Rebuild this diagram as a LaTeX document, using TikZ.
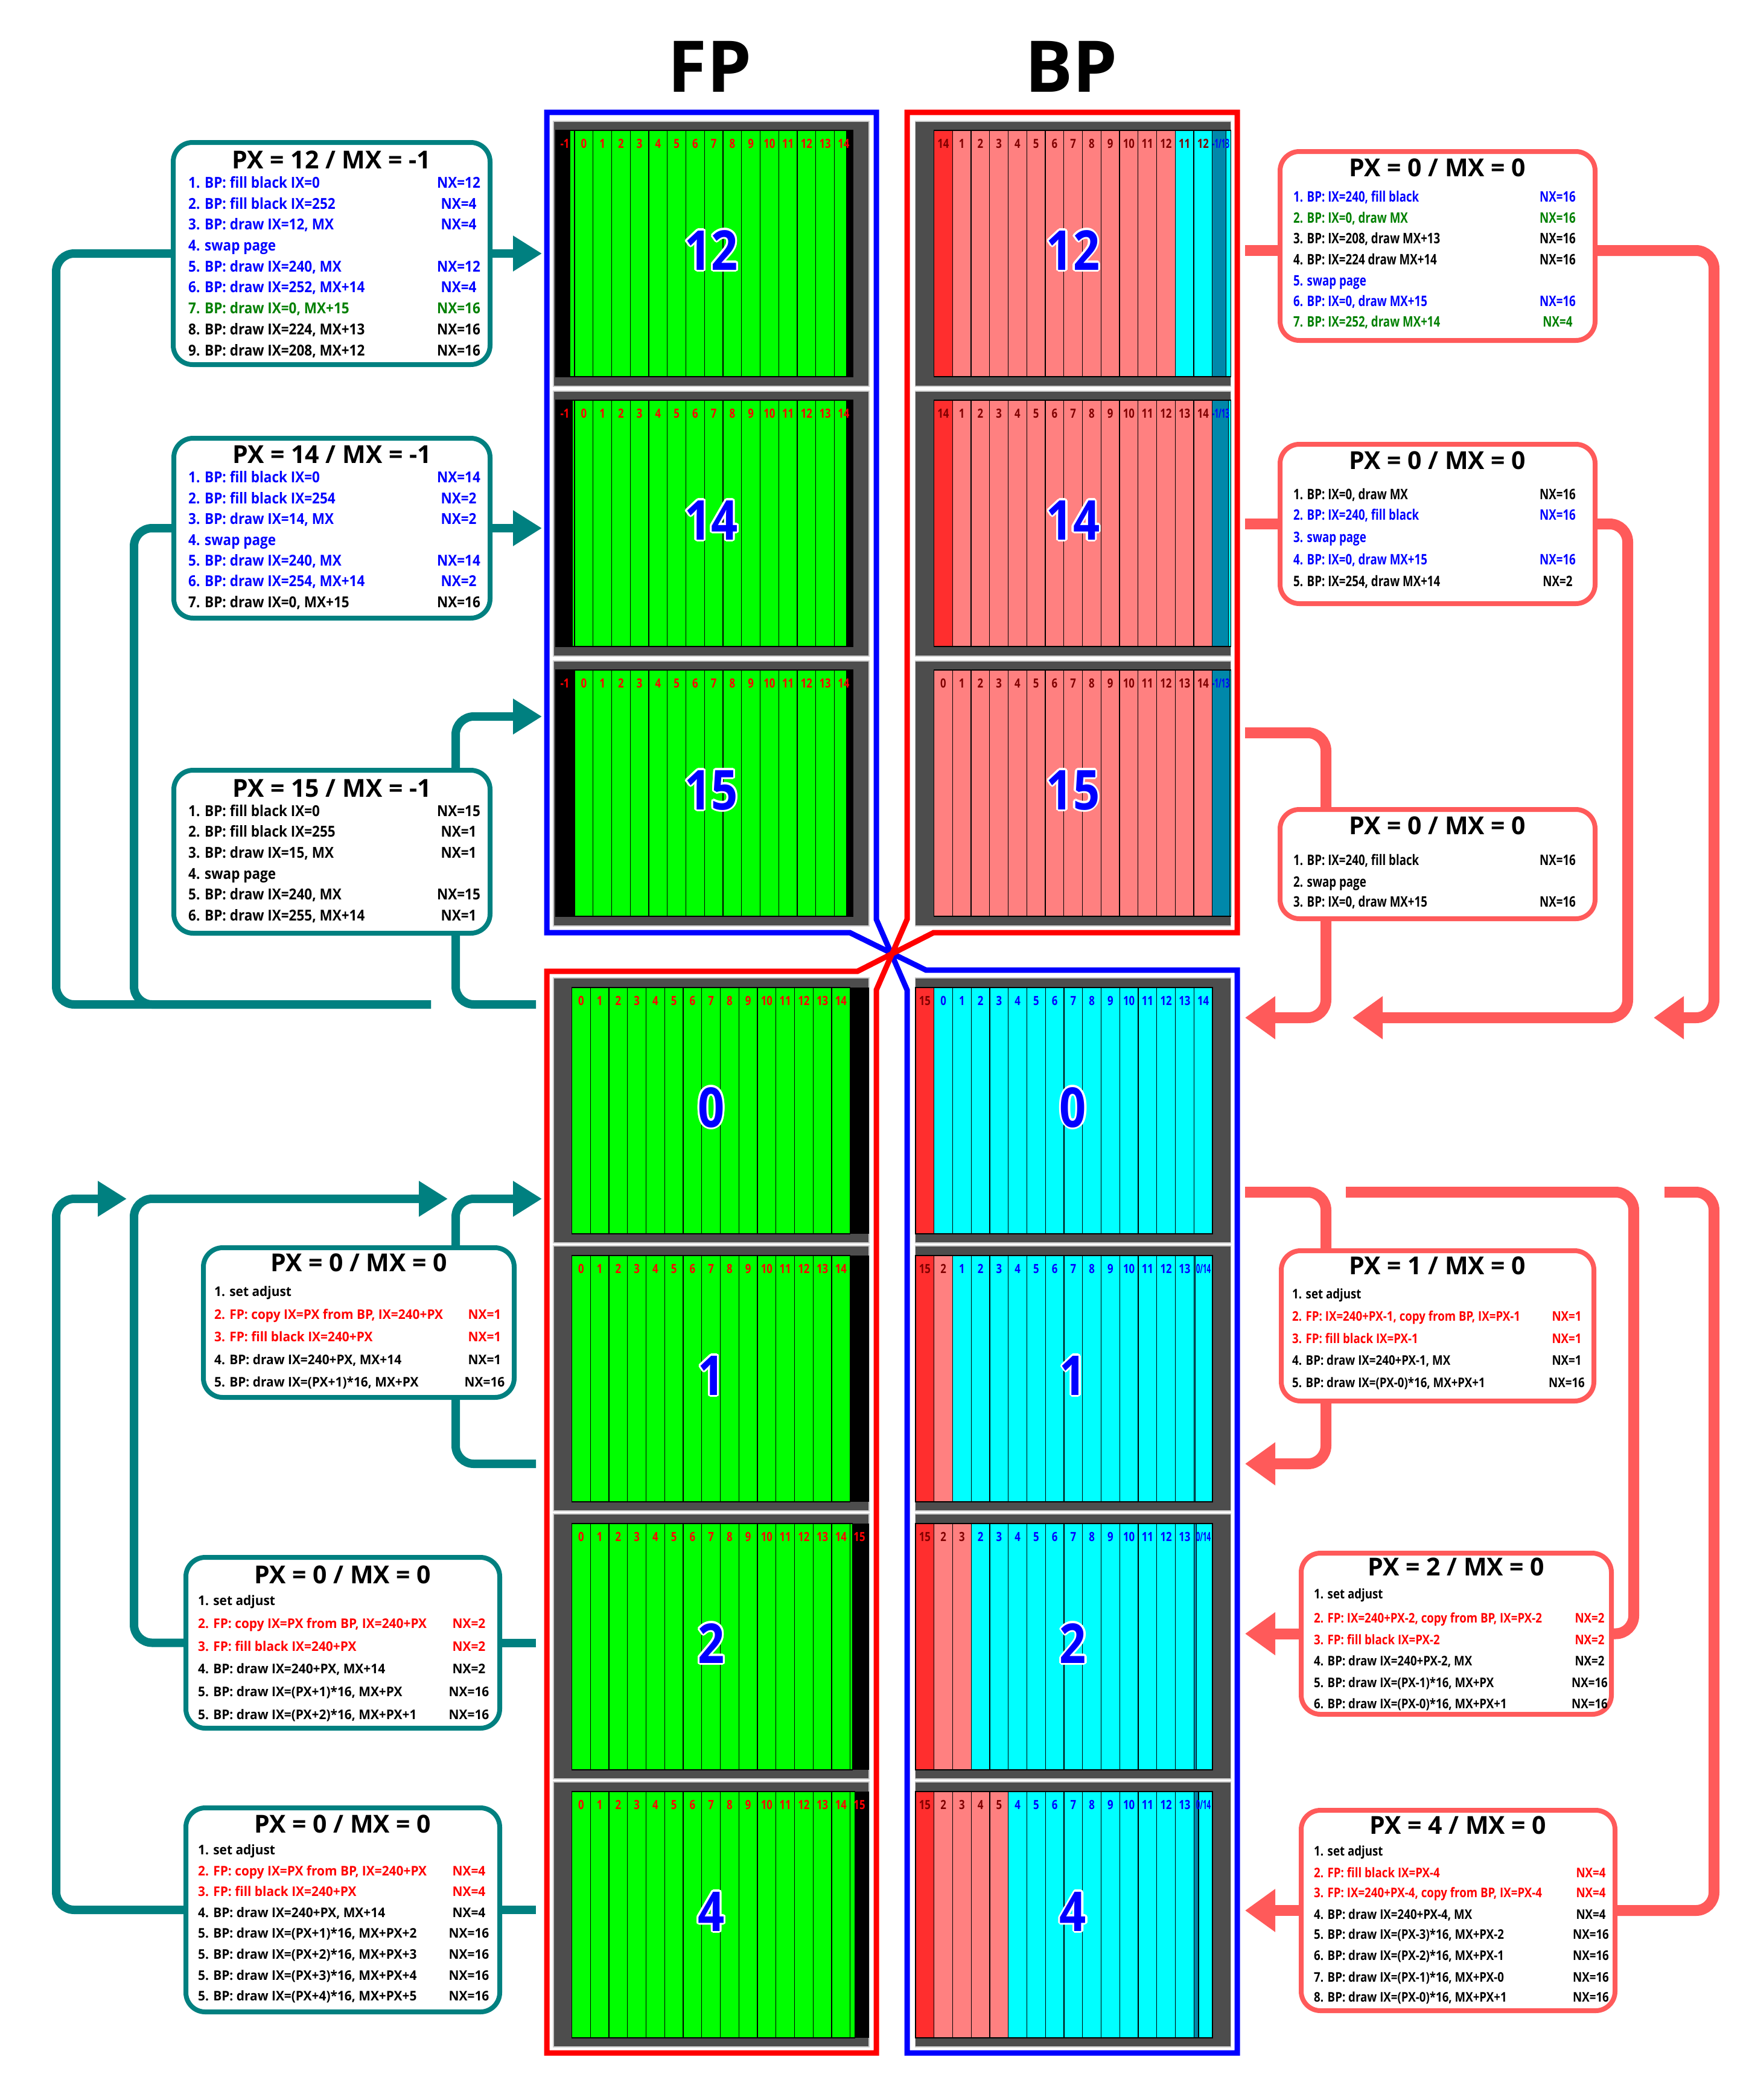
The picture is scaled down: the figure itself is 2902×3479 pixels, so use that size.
\documentclass[tikz,border=0pt]{standalone}
\usepackage{fontspec}
\setmainfont{Open Sans}
\newfontfamily\fA[FakeStretch=0.9]{Open Sans}
\newfontfamily\fB[FakeStretch=0.78]{Open Sans}
\newfontfamily\fC[FakeStretch=0.8]{Open Sans}
\newfontfamily\fD[FakeStretch=0.55]{Open Sans}
\newfontfamily\fE[FakeStretch=0.85]{Open Sans}
\newfontfamily\fF[FakeStretch=0.95]{Open Sans}
\usetikzlibrary{arrows.meta}
\definecolor{tealc}{HTML}{008080}
\definecolor{salm}{HTML}{FF5A5A}
\definecolor{gpanel}{HTML}{4D4D4D}
\definecolor{cgreen}{HTML}{00FF00}
\definecolor{csalmon}{HTML}{FF8080}
\definecolor{cred}{HTML}{FF2E2E}
\definecolor{ccyan}{HTML}{00FFFF}
\definecolor{cteal}{HTML}{0088AA}
\definecolor{dred}{HTML}{800000}
\definecolor{tgreen}{HTML}{008000}
\tikzset{
 panel/.style={draw=black!20, line width=1.5pt, fill=gpanel, minimum width=523pt, minimum height=439pt, inner sep=0pt, outer sep=0pt},
 cell/.style={draw=black, line width=1.2pt},
 lab/.style={font=\fC\bfseries\fontsize{21}{21}\selectfont, inner sep=0pt, anchor=base},
 slab/.style={font=\fD\bfseries\fontsize{21}{21}\selectfont, inner sep=0pt, anchor=base},
 big/.style={font=\fE\bfseries\fontsize{91}{91}\selectfont, inner sep=0pt, anchor=base},
 head/.style={font=\bfseries\fontsize{118}{118}\selectfont, inner sep=0pt, anchor=base},
 lbox/.style={draw=tealc, line width=8pt, rounded corners=32pt, fill=white, inner sep=0pt},
 rbox/.style={draw=salm, line width=8pt, rounded corners=32pt, fill=white, inner sep=0pt},
 ttl/.style={font=\bfseries\fontsize{41}{41}\selectfont, inner sep=0pt, anchor=base},
 ltxt/.style={font=\fA\bfseries\fontsize{25}{25}\selectfont, inner sep=0pt},
 rtxt/.style={font=\fB\bfseries\fontsize{24}{24}\selectfont, inner sep=0pt},
 btxt/.style={font=\fF\bfseries\fontsize{22}{22}\selectfont, inner sep=0pt},
 brtxt/.style={font=\fE\bfseries\fontsize{22}{22}\selectfont, inner sep=0pt},
 tline/.style={draw=tealc, line width=14pt, rounded corners=30pt},
 sline/.style={draw=salm, line width=18pt, rounded corners=30pt},
 tarr/.style={-{Triangle[length=48pt,width=56pt]}},
 sarr/.style={-{Triangle[length=50pt,width=68pt]}},
 frameline/.style={line width=9pt, line join=miter},
}
% box text line: name, style, x, xnx, baseline, colour, text, nx
\newcommand\bl[8]{\node[#2,text=#6,anchor=base west] (#1) at (#3,#5) {#7};
 \node[#2,text=#6,anchor=base] (#1n) at (#4,#5) {#8};}
% tiles: name, x0, strip top, from, to, fill, label offset, label colour
\newcommand\tileset[8]{\foreach \i in {#4,...,#5}{\pgfmathtruncatemacro\l{\i+#7}
 \fill[#6] ({#2+\i*30.75},#3) rectangle ({#2+(\i+1)*30.75},{#3+408});
 \draw[cell] ({#2+\i*30.75},#3) rectangle ({#2+(\i+1)*30.75},{#3+408});
 \node[lab,text=#8] (#1t\i) at ({#2+(\i+0.5)*30.75},{#3+29}) {\l};}}
% outlined big number: name, x, y(baseline), text
\newcommand\bignum[4]{\foreach \a in {0,30,...,330}{\node[big,text=white] (#1o\a) at ([shift={(\a:3.4pt)}]#2,#3) {#4};}
 \node[big,text=blue] (#1) at (#2,#3) {#4};}
% FP top panel: name, y0, PX, big
\newcommand\fptop[4]{\node[panel] (#1) at (1178.5,{#2+219.5}) {};
 \fill[black] (921,{#2+15}) rectangle (1413,{#2+423});
 \fill[cgreen] ({952-(16-#3)*1.922},{#2+15}) rectangle (1403,{#2+423});
 \foreach \i in {0,...,14}{\draw[cell] ({952+\i*30.75},{#2+15}) -- ({952+\i*30.75},{#2+423});}
 \draw[cell] ({952-(16-#3)*1.922},{#2+15}) -- ({952-(16-#3)*1.922},{#2+423});
 \draw[cell] (1403,{#2+15}) -- (1403,{#2+423});
 \draw[cell] (921,{#2+15}) rectangle (1413,{#2+423});
 \node[lab,text=red] (#1m) at (936,{#2+44}) {-1};
 \foreach \i in {0,...,14}{\node[lab,text=red] (#1l\i) at ({952+(\i+0.5)*30.75},{#2+44}) {\i};}
 \bignum{#1b}{1178.5}{#2+246}{#4}}
% FP bottom panel: name, y0, extra pixels, big
\newcommand\fpbot[4]{\node[panel] (#1) at (1178.5,{#2+219.5}) {};
 \fill[black] (1408.75,{#2+16}) rectangle (1440,{#2+424});
 \tileset{#1}{947.5}{#2+16}{0}{14}{cgreen}{0}{red}
 \ifnum#3>0
 \fill[cgreen] (1408.75,{#2+16}) rectangle ({1408.75+#3*1.922},{#2+424});
 \draw[cell] (1408.75,{#2+16}) rectangle ({1408.75+#3*1.922},{#2+424});
 \node[lab,text=red] (#1x) at (1424,{#2+45}) {15};
 \fi
 \bignum{#1b}{1178.5}{#2+247}{#4}}
% last partial tile teal+cyan: name, x0, strip top, teal pixels, label, label x
\newcommand\lasttile[6]{\fill[ccyan] (#2,#3) rectangle ({#2+30.75},{#3+408});
 \fill[cteal] (#2,#3) rectangle ({#2+#4*1.922},{#3+408});
 \draw[cell] (#2,#3) rectangle ({#2+#4*1.922},{#3+408});
 \draw[cell] (#2,#3) rectangle ({#2+30.75},{#3+408});
 \node[slab,text=blue] (#1z) at (#6,{#3+29}) {#5};}
\begin{document}
\begin{tikzpicture}[x=1pt,y=-1pt]
\useasboundingbox (0,0) rectangle (2902,3479);
\fill[white] (0,0) rectangle (2902,3479);
\node[head] (hFP) at (1176,153) {FP};
\node[head] (hBP) at (1775,153) {BP};
% ---------- FP panels ----------
\fptop{fp12}{201}{12}{12}
\fptop{fp14}{648}{14}{14}
\fptop{fp15}{1095}{15}{15}
\fpbot{fp0}{1620}{0}{0}
\fpbot{fp1}{2064}{0}{1}
\fpbot{fp2}{2508}{2}{2}
\fpbot{fp4}{2952}{4}{4}
% ---------- BP top panels ----------
\node[panel] (bp12) at (1778,420.5) {};
\tileset{bp12}{1547.5}{216}{0}{0}{cred}{14}{dred}
\tileset{bp12}{1547.5}{216}{1}{12}{csalmon}{0}{dred}
\tileset{bp12}{1547.5}{216}{13}{14}{ccyan}{-2}{dred}
\lasttile{bp12}{2008.75}{216}{12}{-1/13}{2023}
\bignum{bp12b}{1778}{447}{12}
\node[panel] (bp14) at (1778,867.5) {};
\tileset{bp14}{1547.5}{663}{0}{0}{cred}{14}{dred}
\tileset{bp14}{1547.5}{663}{1}{14}{csalmon}{0}{dred}
\lasttile{bp14}{2008.75}{663}{14}{-1/13}{2023}
\bignum{bp14b}{1778}{894}{14}
\node[panel] (bp15) at (1778,1314.5) {};
\tileset{bp15}{1547.5}{1110}{0}{14}{csalmon}{0}{dred}
\lasttile{bp15}{2008.75}{1110}{15}{-1/13}{2023}
\bignum{bp15b}{1778}{1341}{15}
% ---------- BP bottom panels ----------
\node[panel] (bp0) at (1778,1839.5) {};
\tileset{bp0}{1517}{1636}{0}{0}{cred}{15}{dred}
\tileset{bp0}{1517}{1636}{1}{15}{ccyan}{-1}{blue}
\bignum{bp0b}{1778}{1867}{0}
\node[panel] (bp1) at (1778,2283.5) {};
\tileset{bp1}{1517}{2080}{0}{0}{cred}{15}{dred}
\tileset{bp1}{1517}{2080}{1}{1}{csalmon}{1}{dred}
\tileset{bp1}{1517}{2080}{2}{14}{ccyan}{-1}{blue}
\lasttile{bp1}{1978.25}{2080}{1}{0/14}{1994}
\bignum{bp1b}{1778}{2311}{1}
\node[panel] (bp2) at (1778,2727.5) {};
\tileset{bp2}{1517}{2524}{0}{0}{cred}{15}{dred}
\tileset{bp2}{1517}{2524}{1}{2}{csalmon}{1}{dred}
\tileset{bp2}{1517}{2524}{3}{14}{ccyan}{-1}{blue}
\lasttile{bp2}{1978.25}{2524}{2}{0/14}{1994}
\bignum{bp2b}{1778}{2755}{2}
\node[panel] (bp4) at (1778,3171.5) {};
\tileset{bp4}{1517}{2968}{0}{0}{cred}{15}{dred}
\tileset{bp4}{1517}{2968}{1}{4}{csalmon}{1}{dred}
\tileset{bp4}{1517}{2968}{5}{14}{ccyan}{-1}{blue}
\lasttile{bp4}{1978.25}{2968}{4}{0/14}{1994}
\bignum{bp4b}{1778}{3199}{4}
% ---------- frames ----------
\draw[frameline,blue] (906,186) -- (1452,186) -- (1452,1523) -- (1503,1640) -- (1503,3401) -- (2050,3401) -- (2050,1607) -- (1534,1607) -- (1408,1545) -- (906,1545) -- cycle;
\draw[frameline,red] (2050,186) -- (1503,186) -- (1503,1523) -- (1452,1640) -- (1452,3401) -- (906,3401) -- (906,1609) -- (1421,1609) -- (1547,1545) -- (2050,1545) -- cycle;
% ---------- left boxes ----------
\node[lbox,minimum width=525pt,minimum height=368pt] (L1) at (549.5,420) {};
\node[ttl] (L1t) at (549.5,279) {PX = 12 / MX = -1};
\bl{L1a}{ltxt}{312}{760}{311}{blue}{1. BP: fill black IX=0}{NX=12}
\bl{L1b}{ltxt}{312}{760}{346}{blue}{2. BP: fill black IX=252}{NX=4}
\bl{L1c}{ltxt}{312}{760}{380}{blue}{3. BP: draw IX=12, MX}{NX=4}
\bl{L1d}{ltxt}{312}{760}{415}{blue}{4. swap page}{}
\bl{L1e}{ltxt}{312}{760}{450}{blue}{5. BP: draw IX=240, MX}{NX=12}
\bl{L1f}{ltxt}{312}{760}{484}{blue}{6. BP: draw IX=252, MX+14}{NX=4}
\bl{L1g}{ltxt}{312}{760}{519}{tgreen}{7. BP: draw IX=0, MX+15}{NX=16}
\bl{L1h}{ltxt}{312}{760}{554}{black}{8. BP: draw IX=224, MX+13}{NX=16}
\bl{L1i}{ltxt}{312}{760}{589}{black}{9. BP: draw IX=208, MX+12}{NX=16}
\node[lbox,minimum width=524pt,minimum height=298pt] (L2) at (550,875) {};
\node[ttl] (L2t) at (550,767) {PX = 14 / MX = -1};
\bl{L2a}{ltxt}{312}{760}{799}{blue}{1. BP: fill black IX=0}{NX=14}
\bl{L2b}{ltxt}{312}{760}{834}{blue}{2. BP: fill black IX=254}{NX=2}
\bl{L2c}{ltxt}{312}{760}{868}{blue}{3. BP: draw IX=14, MX}{NX=2}
\bl{L2d}{ltxt}{312}{760}{903}{blue}{4. swap page}{}
\bl{L2e}{ltxt}{312}{760}{937}{blue}{5. BP: draw IX=240, MX}{NX=14}
\bl{L2f}{ltxt}{312}{760}{971}{blue}{6. BP: draw IX=254, MX+14}{NX=2}
\bl{L2g}{ltxt}{312}{760}{1006}{black}{7. BP: draw IX=0, MX+15}{NX=16}
\node[lbox,minimum width=524pt,minimum height=270pt] (L3) at (550,1411) {};
\node[ttl] (L3t) at (550,1320) {PX = 15 / MX = -1};
\bl{L3a}{ltxt}{312}{760}{1352}{black}{1. BP: fill black IX=0}{NX=15}
\bl{L3b}{ltxt}{312}{760}{1386}{black}{2. BP: fill black IX=255}{NX=1}
\bl{L3c}{ltxt}{312}{760}{1421}{black}{3. BP: draw IX=15, MX}{NX=1}
\bl{L3d}{ltxt}{312}{760}{1456}{black}{4. swap page}{}
\bl{L3e}{ltxt}{312}{760}{1490}{black}{5. BP: draw IX=240, MX}{NX=15}
\bl{L3f}{ltxt}{312}{760}{1525}{black}{6. BP: draw IX=255, MX+14}{NX=1}
\node[lbox,minimum width=515pt,minimum height=248pt] (L4) at (594.5,2191) {};
\node[ttl] (L4t) at (594.5,2106) {PX = 0 / MX = 0};
\bl{L4a}{btxt}{355}{803}{2147}{black}{1. set adjust}{}
\bl{L4b}{btxt}{355}{803}{2185}{red}{2. FP: copy IX=PX from BP, IX=240+PX}{NX=1}
\bl{L4c}{btxt}{355}{803}{2222}{red}{3. FP: fill black IX=240+PX}{NX=1}
\bl{L4d}{btxt}{355}{803}{2260}{black}{4. BP: draw IX=240+PX, MX+14}{NX=1}
\bl{L4e}{btxt}{355}{803}{2297}{black}{5. BP: draw IX=(PX+1)*16, MX+PX}{NX=16}
\node[lbox,minimum width=520pt,minimum height=283pt] (L5) at (568,2721.5) {};
\node[ttl] (L5t) at (568,2623) {PX = 0 / MX = 0};
\bl{L5a}{btxt}{328}{777}{2659}{black}{1. set adjust}{}
\bl{L5b}{btxt}{328}{777}{2697}{red}{2. FP: copy IX=PX from BP, IX=240+PX}{NX=2}
\bl{L5c}{btxt}{328}{777}{2735}{red}{3. FP: fill black IX=240+PX}{NX=2}
\bl{L5d}{btxt}{328}{777}{2772}{black}{4. BP: draw IX=240+PX, MX+14}{NX=2}
\bl{L5e}{btxt}{328}{777}{2810}{black}{5. BP: draw IX=(PX+1)*16, MX+PX}{NX=16}
\bl{L5f}{btxt}{328}{777}{2848}{black}{5. BP: draw IX=(PX+2)*16, MX+PX+1}{NX=16}
\node[lbox,minimum width=520pt,minimum height=338pt] (L6) at (568,3164) {};
\node[ttl] (L6t) at (568,3036) {PX = 0 / MX = 0};
\bl{L6a}{btxt}{328}{777}{3072}{black}{1. set adjust}{}
\bl{L6b}{btxt}{328}{777}{3107}{red}{2. FP: copy IX=PX from BP, IX=240+PX}{NX=4}
\bl{L6c}{btxt}{328}{777}{3141}{red}{3. FP: fill black IX=240+PX}{NX=4}
\bl{L6d}{btxt}{328}{777}{3176}{black}{4. BP: draw IX=240+PX, MX+14}{NX=4}
\bl{L6e}{btxt}{328}{777}{3210}{black}{5. BP: draw IX=(PX+1)*16, MX+PX+2}{NX=16}
\bl{L6f}{btxt}{328}{777}{3245}{black}{5. BP: draw IX=(PX+2)*16, MX+PX+3}{NX=16}
\bl{L6g}{btxt}{328}{777}{3280}{black}{5. BP: draw IX=(PX+3)*16, MX+PX+4}{NX=16}
\bl{L6h}{btxt}{328}{777}{3314}{black}{5. BP: draw IX=(PX+4)*16, MX+PX+5}{NX=16}
% ---------- right boxes ----------
\node[rbox,minimum width=522pt,minimum height=313pt] (R1) at (2382,407.5) {};
\node[ttl] (R1t) at (2382,292) {PX = 0 / MX = 0};
\bl{R1a}{rtxt}{2143}{2581}{334.5}{blue}{1. BP: IX=240, fill black}{NX=16}
\bl{R1b}{rtxt}{2143}{2581}{369.5}{tgreen}{2. BP: IX=0, draw MX}{NX=16}
\bl{R1c}{rtxt}{2143}{2581}{403.5}{black}{3. BP: IX=208, draw MX+13}{NX=16}
\bl{R1d}{rtxt}{2143}{2581}{438.5}{black}{4. BP: IX=224 draw MX+14}{NX=16}
\bl{R1e}{rtxt}{2143}{2581}{473.5}{blue}{5. swap page}{}
\bl{R1f}{rtxt}{2143}{2581}{507.5}{blue}{6. BP: IX=0, draw MX+15}{NX=16}
\bl{R1g}{rtxt}{2143}{2581}{541.5}{tgreen}{7. BP: IX=252, draw MX+14}{NX=4}
\node[rbox,minimum width=522pt,minimum height=264pt] (R2) at (2382,868) {};
\node[ttl] (R2t) at (2382,777) {PX = 0 / MX = 0};
\bl{R2a}{rtxt}{2143}{2581}{827.5}{black}{1. BP: IX=0, draw MX}{NX=16}
\bl{R2b}{rtxt}{2143}{2581}{861.5}{blue}{2. BP: IX=240, fill black}{NX=16}
\bl{R2c}{rtxt}{2143}{2581}{898.5}{blue}{3. swap page}{}
\bl{R2d}{rtxt}{2143}{2581}{935.5}{blue}{4. BP: IX=0, draw MX+15}{NX=16}
\bl{R2e}{rtxt}{2143}{2581}{971.5}{black}{5. BP: IX=254, draw MX+14}{NX=2}
\node[rbox,minimum width=522pt,minimum height=181pt] (R3) at (2382,1431.5) {};
\node[ttl] (R3t) at (2382,1382) {PX = 0 / MX = 0};
\bl{R3a}{rtxt}{2143}{2581}{1433.5}{black}{1. BP: IX=240, fill black}{NX=16}
\bl{R3b}{rtxt}{2143}{2581}{1469.5}{black}{2. swap page}{}
\bl{R3c}{rtxt}{2143}{2581}{1502.5}{black}{3. BP: IX=0, draw MX+15}{NX=16}
\node[rbox,minimum width=518pt,minimum height=249pt] (R4) at (2382,2196.5) {};
\node[ttl] (R4t) at (2382,2111) {PX = 1 / MX = 0};
\bl{R4a}{brtxt}{2141}{2596}{2151}{black}{1. set adjust}{}
\bl{R4b}{brtxt}{2141}{2596}{2188}{red}{2. FP: IX=240+PX-1, copy from BP, IX=PX-1}{NX=1}
\bl{R4c}{brtxt}{2141}{2596}{2225}{red}{3. FP: fill black IX=PX-1}{NX=1}
\bl{R4d}{brtxt}{2141}{2596}{2261}{black}{4. BP: draw IX=240+PX-1, MX}{NX=1}
\bl{R4e}{brtxt}{2141}{2596}{2298}{black}{5. BP: draw IX=(PX-0)*16, MX+PX+1}{NX=16}
\node[rbox,minimum width=514pt,minimum height=267pt] (R5) at (2413,2706.5) {};
\node[ttl] (R5t) at (2413,2610) {PX = 2 / MX = 0};
\bl{R5a}{brtxt}{2177}{2634}{2648}{black}{1. set adjust}{}
\bl{R5b}{brtxt}{2177}{2634}{2688}{red}{2. FP: IX=240+PX-2, copy from BP, IX=PX-2}{NX=2}
\bl{R5c}{brtxt}{2177}{2634}{2724}{red}{3. FP: fill black IX=PX-2}{NX=2}
\bl{R5d}{brtxt}{2177}{2634}{2759}{black}{4. BP: draw IX=240+PX-2, MX}{NX=2}
\bl{R5e}{brtxt}{2177}{2634}{2795}{black}{5. BP: draw IX=(PX-1)*16, MX+PX}{NX=16}
\bl{R5f}{brtxt}{2177}{2634}{2830}{black}{6. BP: draw IX=(PX-0)*16, MX+PX+1}{NX=16}
\node[rbox,minimum width=520pt,minimum height=332pt] (R6) at (2416,3165) {};
\node[ttl] (R6t) at (2416,3038) {PX = 4 / MX = 0};
\bl{R6a}{brtxt}{2177}{2636}{3074}{black}{1. set adjust}{}
\bl{R6b}{brtxt}{2177}{2636}{3110}{red}{2. FP: fill black IX=PX-4}{NX=4}
\bl{R6c}{brtxt}{2177}{2636}{3143}{red}{3. FP: IX=240+PX-4, copy from BP, IX=PX-4}{NX=4}
\bl{R6d}{brtxt}{2177}{2636}{3179}{black}{4. BP: draw IX=240+PX-4, MX}{NX=4}
\bl{R6e}{brtxt}{2177}{2636}{3212}{black}{5. BP: draw IX=(PX-3)*16, MX+PX-2}{NX=16}
\bl{R6f}{brtxt}{2177}{2636}{3247}{black}{6. BP: draw IX=(PX-2)*16, MX+PX-1}{NX=16}
\bl{R6g}{brtxt}{2177}{2636}{3283}{black}{7. BP: draw IX=(PX-1)*16, MX+PX-0}{NX=16}
\bl{R6h}{brtxt}{2177}{2636}{3316}{black}{8. BP: draw IX=(PX-0)*16, MX+PX+1}{NX=16}
% ---------- connector end points ----------
\coordinate (tsA) at (888,1664);
\coordinate (tsA2) at (714,1664);
\coordinate (tsB) at (888,2425);
\coordinate (ts2) at (888,2721.5);
\coordinate (ts4) at (888,3164);
\coordinate (a12) at (898,420);
\coordinate (a14) at (898,875);
\coordinate (a15) at (898,1187);
\coordinate (a0) at (898,1986);
\coordinate (a0b) at (742,1986);
\coordinate (a0c) at (210,1986);
\coordinate (v3) at (755,0);
\coordinate (v5) at (2197,0);
\coordinate (s12) at (2063,415);
\coordinate (s14) at (2063,868);
\coordinate (s15) at (2063,1214);
\coordinate (s0) at (2063,1975);
\coordinate (s0b) at (2230,1975);
\coordinate (s0c) at (2758,1975);
\coordinate (sa1) at (2740,1686);
\coordinate (sa2) at (2241,1686);
\coordinate (sa3) at (2063,1686);
\coordinate (sa4) at (2063,2425);
\coordinate (sa5) at (2063,2706.5);
\coordinate (sa6) at (2063,3165);
% ---------- teal connectors ----------
\draw[tline] (tsA2) -- (93,1664) -- (93,420) -- (L1.west);
\draw[tline,tarr] (L1.east) -- (a12);
\draw[tline] (tsA2) -- (222,1664) -- (222,875) -- (L2.west);
\draw[tline,tarr] (L2.east) -- (a14);
\draw[tline] (tsA) -- (755,1664) -- (L3.south -| v3);
\draw[tline,tarr] (L3.north -| v3) -- (755,1187) -- (a15);
\draw[tline] (tsB) -- (755,2425) -- (L4.south -| v3);
\draw[tline,tarr] (L4.north -| v3) -- (755,1986) -- (a0);
\draw[tline] (ts2) -- (L5.east);
\draw[tline,tarr] (L5.west) -- (222,2721.5) -- (222,1986) -- (a0b);
\draw[tline] (ts4) -- (L6.east);
\draw[tline,tarr] (L6.west) -- (93,3164) -- (93,1986) -- (a0c);
% ---------- salmon connectors ----------
\draw[sline] (s12) -- ([yshift=-7.5pt]R1.west);
\draw[sline,sarr] ([yshift=-7.5pt]R1.east) -- (2840,415) -- (2840,1686) -- (sa1);
\draw[sline] (s14) -- (R2.west);
\draw[sline,sarr] (R2.east) -- (2697,868) -- (2697,1686) -- (sa2);
\draw[sline] (s15) -- (2197,1214) -- (R3.north -| v5);
\draw[sline,sarr] (R3.south -| v5) -- (2197,1686) -- (sa3);
\draw[sline] (s0) -- (2197,1975) -- (R4.north -| v5);
\draw[sline,sarr] (R4.south -| v5) -- (2197,2425) -- (sa4);
\draw[sline] (s0b) -- (2707,1975) -- (2707,2706.5) -- (R5.east);
\draw[sline,sarr] (R5.west) -- (sa5);
\draw[sline] (s0c) -- (2840,1975) -- (2840,3165) -- (R6.east);
\draw[sline,sarr] (R6.west) -- (sa6);
\end{tikzpicture}
\end{document}
